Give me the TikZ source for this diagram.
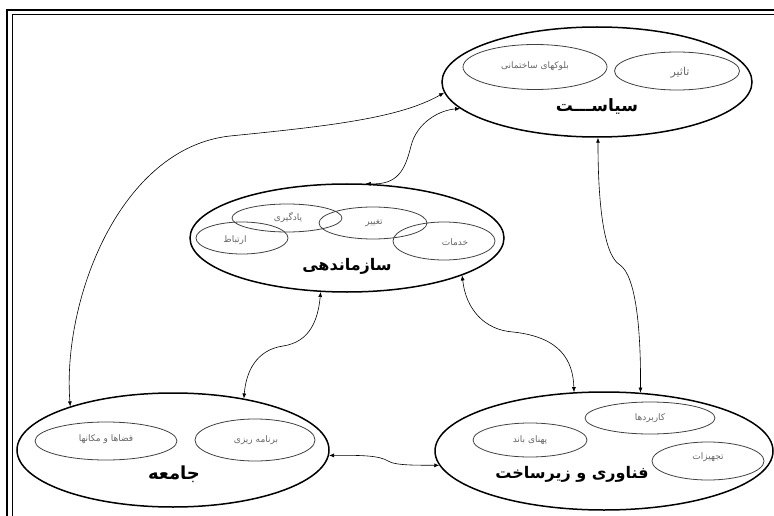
\documentclass[tikz,border=0pt]{standalone}
\usepackage{fontspec}
\usetikzlibrary{shapes.geometric,arrows.meta}
\TeXXeTstate=1
\newfontfamily\arfont[Script=Arabic]{DejaVu Sans}
\tikzset{
  outerell/.style={ellipse, draw, line width=1.5pt, inner sep=0pt},
  innerell/.style={ellipse, draw=black!75, line width=0.8pt, inner sep=0pt},
  sublabel/.style={font=\arfont\fontsize{9}{10}\selectfont, text=black!60, inner sep=0pt},
  mainlabel/.style={font=\arfont\bfseries\fontsize{16}{18}\selectfont, inner sep=0pt},
  link/.style={line width=0.6pt, {Latex[length=5pt,width=4pt]}-{Latex[length=5pt,width=4pt]}},
}
\begin{document}
\begin{tikzpicture}[x=1pt,y=-1pt]
\useasboundingbox (0,0) rectangle (774,516);
% frame
\draw[line width=2pt] (7,516) -- (7,10) -- (774,10);
\draw[line width=0.8pt] (12,516) -- (12,14.5) -- (774,14.5);

% Siasat
\node[outerell, minimum width=310pt, minimum height=110pt] (siasat) at (597,82) {};
\node[innerell, minimum width=144pt, minimum height=45pt] (blocks) at (535,67) {};
\node[innerell, minimum width=125pt, minimum height=38pt] (tasir) at (677,71) {};
\node[sublabel] (blockst) at (535,66) {\beginR بلوکهای ساختمانی\endR};
\node[sublabel, font=\arfont\fontsize{11}{12}\selectfont] (tasirt) at (680,73) {\beginR تاثیر\endR};
\node[mainlabel, font=\arfont\bfseries\fontsize{17}{19}\selectfont] (siasatt) at (597,106) {\beginR سیاســـت\endR};

% Sazmandehi
\node[outerell, minimum width=314pt, minimum height=108pt] (saz) at (347,238) {};
\node[innerell, minimum width=110pt, minimum height=28pt] (yad) at (287,218) {};
\node[innerell, minimum width=108pt, minimum height=32pt] (tagh) at (373,223) {};
\node[innerell, minimum width=92pt, minimum height=32pt] (ertb) at (242,238) {};
\node[innerell, minimum width=102pt, minimum height=38pt] (khad) at (444,241) {};
\node[sublabel] (yadt) at (288,218) {\beginR یادگیری\endR};
\node[sublabel] (taght) at (374,223) {\beginR تغییر\endR};
\node[sublabel] (ertbt) at (235,240) {\beginR ارتباط\endR};
\node[sublabel] (khadt) at (455,242) {\beginR خدمات\endR};
\node[mainlabel] (sazt) at (347,266) {\beginR سازماندهی\endR};

% Jameh
\node[outerell, minimum width=312pt, minimum height=114pt] (jameh) at (173,450) {};
\node[innerell, minimum width=142pt, minimum height=38pt] (faza) at (106,441) {};
\node[innerell, minimum width=120pt, minimum height=42pt] (barn) at (255,440) {};
\node[sublabel] (fazat) at (106,439) {\beginR فضاها و مکانها\endR};
\node[sublabel] (barnt) at (256,440) {\beginR برنامه ریزی\endR};
\node[mainlabel, font=\arfont\bfseries\fontsize{18}{20}\selectfont] (jamehtx) at (174,474) {\beginR جامعه\endR};

% Fanavari
\node[outerell, minimum width=338pt, minimum height=118pt] (fan) at (604,451) {};
\node[innerell, minimum width=130pt, minimum height=32pt] (karb) at (650,418) {};
\node[innerell, minimum width=114pt, minimum height=34pt] (pahna) at (530,440) {};
\node[innerell, minimum width=112pt, minimum height=38pt] (tajh) at (708,461) {};
\node[sublabel] (karbt) at (650,418) {\beginR کاربردها\endR};
\node[sublabel] (pahnat) at (530,440) {\beginR پهنای باند\endR};
\node[sublabel] (tajht) at (708,457) {\beginR تجهیزات\endR};
\node[mainlabel] (fant) at (572,474) {\beginR فناوری و زیرساخت\endR};

% connectors
\draw[link] (jameh.157) .. controls (62,300) and (120,148) .. (230,136)
  .. controls (330,126) and (400,118) .. (siasat.184);
\draw[link] (saz.71) .. controls (398,185) and (405,170) .. (411,146)
  .. controls (417,122) and (440,110) .. (siasat.191);
\draw[link] (jameh.36) .. controls (246,372) and (256,350) .. (283,346)
  .. controls (310,342) and (318,320) .. (saz.244);
\draw[link] (saz.-18) .. controls (466,310) and (485,330) .. (513,332)
  .. controls (560,337) and (573,360) .. (fan.117);
\draw[link] (siasat.-89) .. controls (598,200) and (603,255) .. (620,265)
  .. controls (636,276) and (641,330) .. (fan.58);
\draw[link] (jameh.-2) .. controls (365,455) and (380,456) .. (388,461)
  .. controls (396,466) and (420,465) .. (fan.185);
\end{tikzpicture}
\end{document}
